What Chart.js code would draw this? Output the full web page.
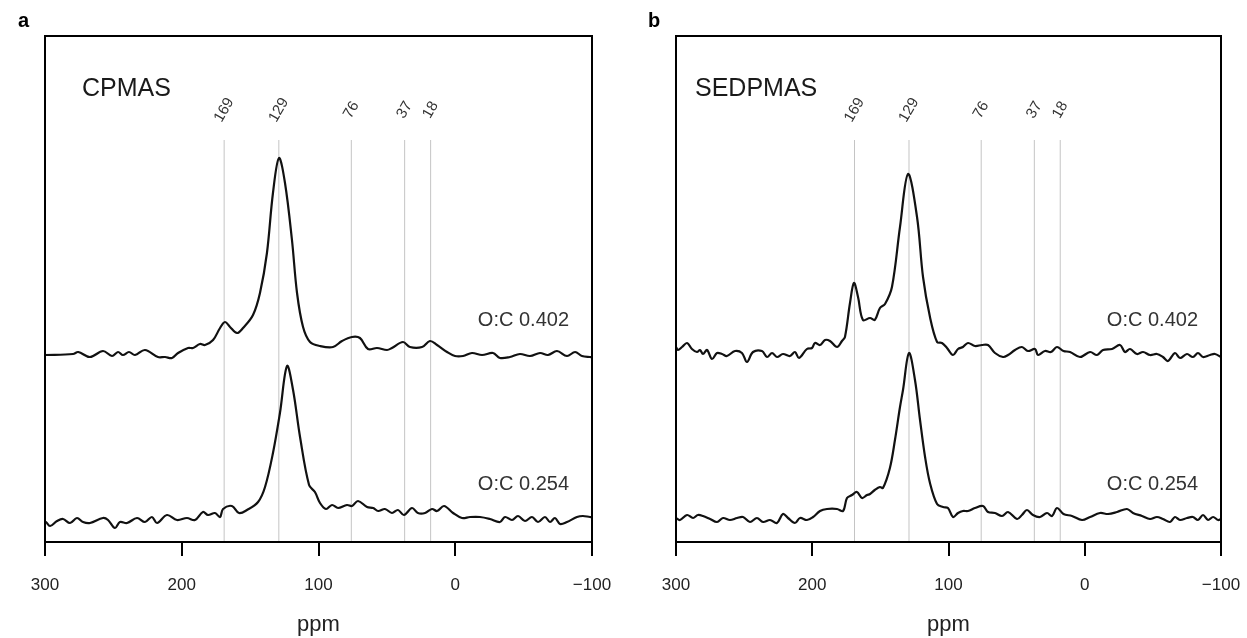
<!DOCTYPE html>
<html>
<head>
<meta charset="utf-8">
<script src="https://cdn.jsdelivr.net/npm/chart.js@4/dist/chart.umd.min.js"></script>
<style>
  html,body{margin:0;padding:0;background:#fff;}
  #wrap{position:relative;width:1247px;height:638px;overflow:hidden;}
  .pane{position:absolute;top:0;}
</style>
</head>
<body>
<div id="wrap">
  <div class="pane" style="left:0;width:623px;height:638px;"><canvas id="ca"></canvas></div>
  <div class="pane" style="left:623px;width:624px;height:638px;"><canvas id="cb"></canvas></div>
</div>
<script>
// ---------- data (chemical shift in ppm, intensity in arbitrary offset units) ----------
const tickValues = [300, 200, 100, 0, -100];
const refPeaks = [169, 129, 76, 37, 18];
const refLabels = ['169', '129', '76', '37', '18'];
const refLineTop = 402;

const cpHighPpm = [300,279.5,275.7,267.1,257.6,251,246.6,243,238.6,234.2,226.9,217.4,212.2,207.1,202.7,195.4,191.8,186.7,183,177.1,172,168.4,164.7,159.6,155.2,147.9,142.8,137.7,133.3,128.9,124.5,119.4,115.7,111.3,106.2,98.9,89.4,82.8,75.5,69.7,63.8,57.2,49.9,46.3,38.2,33.1,24.3,18.5,13.3,6,0.2,-5.7,-12.2,-19.6,-27.6,-32.7,-40,-47.3,-54.7,-62,-67.8,-74.4,-81.7,-87.6,-92.7,-98.5,-100];
const cpHighInt = [187,188,190,185,191,186,190,187,190,187,192,185,185,184,189,194,194,198,197,202,214,220,215,209,214,227,249,289,349,384,359,302,249,215,200,196,195,201,205,204,193,194,192,194,200,195,195,201,197,190,186,186,189,187,189,184,185,188,186,189,187,191,186,190,186,185,185];

const cpLowPpm = [300,299.3,296.3,291.2,286.8,281.7,276.6,272.2,267.1,257.6,253.9,248.8,245.2,240,232.7,226.9,221.8,218.1,210.8,203.5,196.2,190.3,184.5,180.8,175.7,172,169.8,163.3,158.1,152.3,144.2,139.1,133.3,128.2,123,118.6,113.5,106.9,102.6,98.9,94.5,90.1,85.7,79.2,75.5,71.1,64.5,60,56.4,51.4,46.3,41.9,37.5,31.6,27.3,22.1,17,13.3,8.2,1.6,-4.9,-10.8,-18.1,-25.4,-32.7,-36.4,-41.5,-45.9,-51,-56.1,-60.5,-65.6,-69.3,-72.9,-76.6,-81.7,-89,-93.4,-98.5,-100];
const cpLowInt = [20,20,16,21,23,19,24,20,19,24,22,14,20,19,24,20,25,19,27,22,24,22,30,27,29,25,33,36,29,32,40,55,89,129,176,152,105,57,50,39,33,37,34,37,36,41,35,34,31,33,29,32,27,34,29,29,33,31,36,29,24,25,25,23,20,25,22,26,21,25,20,25,20,24,18,20,25,26,25,25];

const sedHighPpm = [300,298.5,295.6,291.9,288.3,284.6,282.4,280.2,277.2,273.6,269.9,266.2,262.6,256.7,251.6,247.9,243.5,236.9,233.2,229.5,225.9,221.5,216.3,212.7,209.7,203.9,200.2,198,194.3,190.6,187,181.8,178.2,176,172.3,169.4,166.4,162.8,157.6,154.1,150.3,146.6,141.5,135.6,129.7,123.1,118.7,113.6,108.4,104.8,101.1,96.7,93,89.4,85.7,80.6,75.4,71,65.9,60,56.3,51.2,46.1,41.7,36.5,34.3,29.2,24.8,20.4,15.6,10.8,3.5,-3.9,-9,-13.4,-20,-25.9,-29.5,-33.2,-38.3,-42.8,-47.9,-53,-57.4,-61.1,-66.2,-69.9,-75,-79.4,-83.1,-86.8,-91.9,-95.6,-100];
const sedHighInt = [195,192,195,199,193,190,192,188,192,183,189,188,186,191,189,180,190,191,185,189,185,188,186,190,184,193,194,199,197,202,201,195,201,205,239,259,245,222,224,222,234,238,255,315,368,325,265,225,200,199,194,187,193,195,199,196,197,197,189,185,187,192,195,191,193,187,191,190,195,191,190,185,190,187,192,193,197,190,193,188,190,187,188,185,181,189,184,188,185,189,185,187,188,185];

const sedLowPpm = [300,297.1,291.9,287.5,283.9,280.2,275,269.9,265.5,260.4,255.2,250.8,245.7,240.6,236.1,231,225.9,221.5,217.8,212.7,209,203.9,199.4,194.3,189.2,181.8,177.4,174.5,170.8,167.2,163.5,159.8,157.6,154.1,150.3,148.1,143,139.3,135.6,133.4,129,124.6,120.9,117.2,113.6,108.4,104,100.4,96.7,93,89.4,85.7,80.6,74.7,71,65.9,60.7,56.3,49.7,46.1,42.4,38,32.8,27.7,24,20.4,15.6,9.4,2,-3.9,-11.2,-17.1,-23.7,-31,-35.4,-42,-47.9,-53,-57.4,-62.6,-66.2,-69.9,-75,-79.4,-83.1,-86.8,-90.5,-94.2,-97.9,-100];
const sedLowInt = [24,22,27,24,27,26,23,20,24,22,24,25,20,24,20,22,19,28,24,19,24,22,25,31,33,33,31,44,47,50,44,47,48,52,55,54,74,102,135,152,189,162,122,85,59,38,35,34,25,29,31,31,34,36,30,29,26,30,23,27,32,27,25,29,26,34,28,26,22,25,29,28,30,33,29,26,23,25,23,20,25,22,24,25,22,27,22,25,22,23];

const panels = [
  {id:'ca', letter:'a', method:'CPMAS', high:[cpHighPpm, cpHighInt], low:[cpLowPpm, cpLowInt],
   padL:45, padR:31, letterX:18, methodDX:37},
  {id:'cb', letter:'b', method:'SEDPMAS', high:[sedHighPpm, sedHighInt], low:[sedLowPpm, sedLowInt],
   padL:53, padR:26, letterX:25, methodDX:19}
];
const seriesLabels = ['O:C 0.402', 'O:C 0.254'];

// ---------- layout constants ----------
const PLOT_TOP = 36, PLOT_BOTTOM = 542, CANVAS_H = 638;
const FONT = '"Liberation Sans", Arial, Helvetica, sans-serif';
const zip = (xs, ys) => xs.map((x, i) => ({x, y: ys[i]}));

const decor = {
  id: 'decor',
  afterDraw(chart, args, o) {
    const {ctx, chartArea: ca, scales} = chart;
    const xs = scales.x, ys = scales.y;
    ctx.save();
    // frame
    ctx.strokeStyle = '#000'; ctx.lineWidth = 2;
    ctx.strokeRect(ca.left, ca.top, ca.right - ca.left, ca.bottom - ca.top);
    // panel letter
    ctx.fillStyle = '#000';
    ctx.font = 'bold 20px ' + FONT;
    ctx.textAlign = 'left'; ctx.textBaseline = 'middle';
    ctx.fillText(o.letter, o.letterX, 21);
    // method title
    ctx.fillStyle = '#1a1a1a';
    ctx.font = '25px ' + FONT;
    ctx.fillText(o.method, ca.left + o.methodDX, 89);
    // reference peak labels (rotated)
    ctx.fillStyle = '#333';
    ctx.font = '15px ' + FONT;
    ctx.textAlign = 'center'; ctx.textBaseline = 'middle';
    const ly = ys.getPixelForValue(refLineTop) - 30;
    refPeaks.forEach((p, i) => {
      ctx.save();
      ctx.translate(xs.getPixelForValue(p), ly);
      ctx.rotate(-Math.PI / 3);
      ctx.fillText(refLabels[i], 0, 0);
      ctx.restore();
    });
    // series labels
    ctx.font = '20px ' + FONT;
    ctx.fillStyle = '#333';
    ctx.textAlign = 'right';
    ctx.fillText(seriesLabels[0], ca.right - 23, 320);
    ctx.fillText(seriesLabels[1], ca.right - 23, 484);
    ctx.restore();
  }
};

panels.forEach(p => {
  const datasets = [
    {data: zip(p.high[0], p.high[1]), borderColor:'#111', borderWidth:2.2, pointRadius:0, tension:0.35},
    {data: zip(p.low[0], p.low[1]), borderColor:'#111', borderWidth:2.2, pointRadius:0, tension:0.35}
  ];
  refPeaks.forEach(v => datasets.push({
    data: [{x:v, y:0}, {x:v, y:refLineTop}], borderColor:'#c4c4c4', borderWidth:1, pointRadius:0
  }));
  new Chart(document.getElementById(p.id), {
    type: 'line',
    data: {datasets},
    options: {
      responsive: true, maintainAspectRatio: false, animation: false,
      layout: {padding: {left: p.padL, right: p.padR, top: PLOT_TOP, bottom: 0}},
      plugins: {legend:{display:false}, tooltip:{enabled:false},
        decor: {letter: p.letter, method: p.method, letterX: p.letterX, methodDX: p.methodDX}},
      scales: {
        x: {
          type: 'linear', min: -100, max: 300, reverse: true,
          afterBuildTicks: s => { s.ticks = tickValues.map(v => ({value: v})); },
          afterFit: s => { s.height = CANVAS_H - PLOT_BOTTOM; s.paddingLeft = 0; s.paddingRight = 0; },
          border: {display: false},
          grid: {display: true, drawOnChartArea: false, drawTicks: true, tickLength: 14, color: '#000', lineWidth: 2},
          ticks: {
            color: '#222', padding: 19, maxRotation: 0, autoSkip: false,
            font: {family: FONT, size: 17},
            callback: v => v < 0 ? '\u2212' + Math.abs(v) : String(v)
          },
          title: {display: true, text: 'ppm', color: '#222', font: {family: FONT, size: 22}, padding: {top: 0, bottom: 0}}
        },
        y: {type: 'linear', min: 0, max: PLOT_BOTTOM - PLOT_TOP, display: false}
      }
    },
    plugins: [decor]
  });
});
</script>
</body>
</html>
